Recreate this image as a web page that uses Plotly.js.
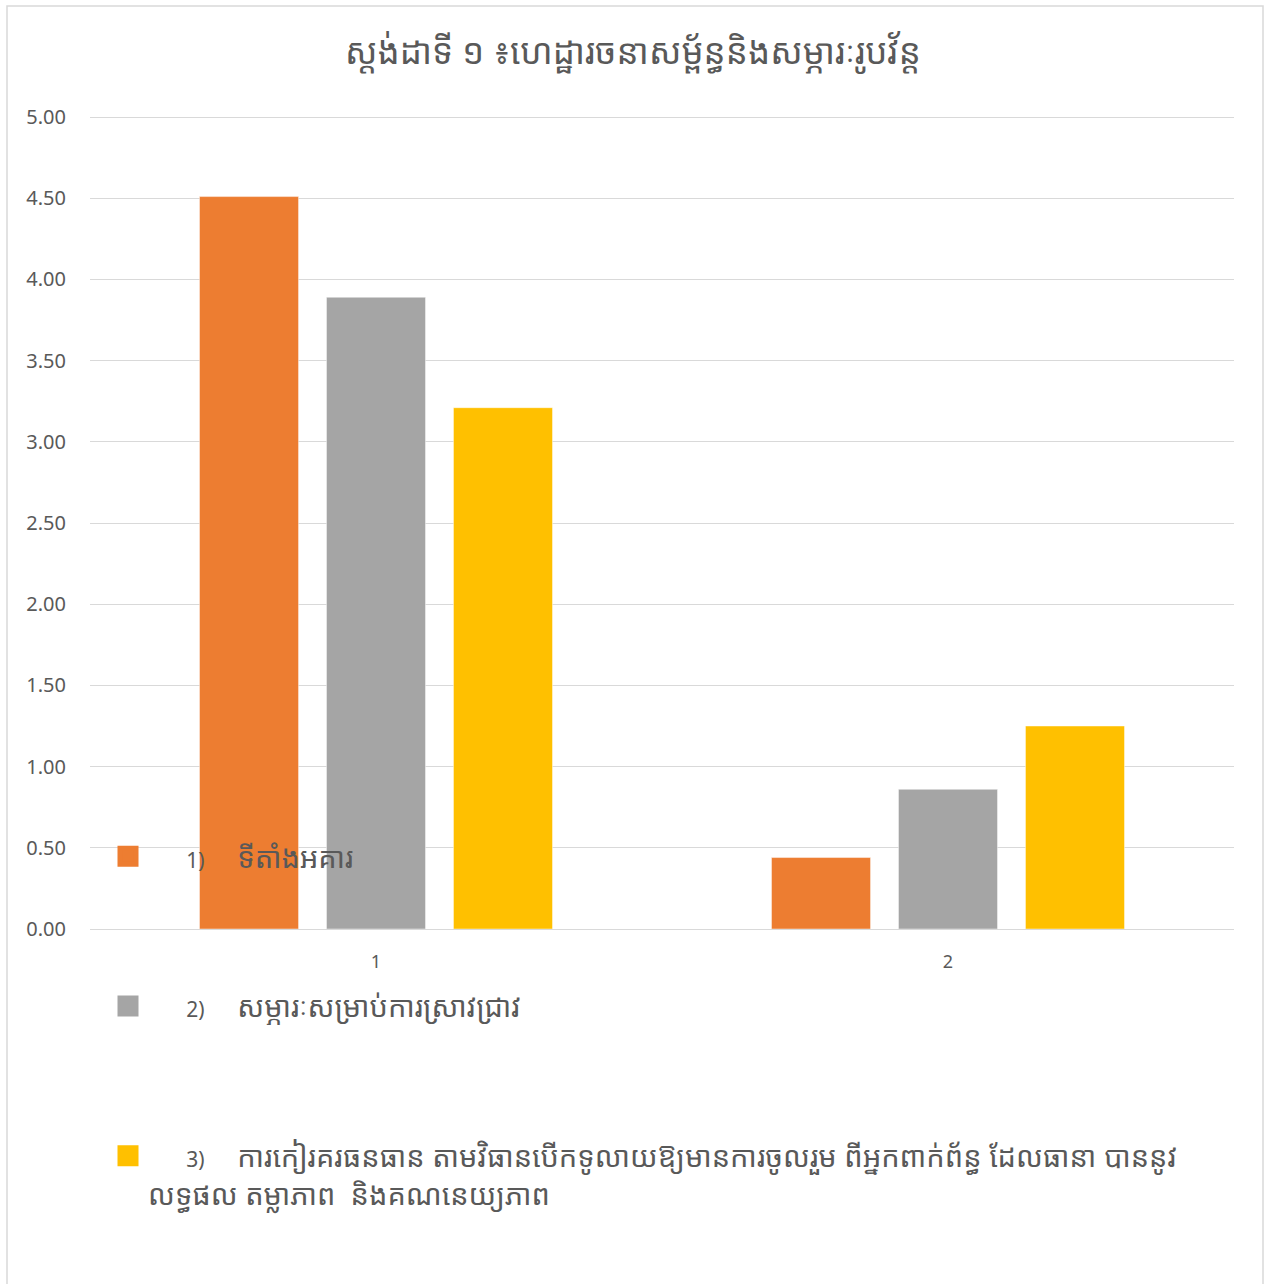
<!DOCTYPE html>
<html>
<head>
<meta charset="utf-8">
<script src="https://cdn.plot.ly/plotly-3.0.1.min.js"></script>
<style>
html,body{margin:0;padding:0;background:#fff;}
#chart{width:1266px;height:1284px;}
</style>
</head>
<body>
<div id="chart"></div>
<script>
const categories = ["1", "2"];
const seriesNumbers = ["1)", "2)", "3)"];
const seriesLabels = [
  "ទីតាំងអគារ",
  "សម្ភារៈសម្រាប់ការស្រាវជ្រាវ",
  "ការកៀរគរធនធាន តាមវិធានបើកទូលាយឱ្យមានការចូលរួម ពីអ្នកពាក់ព័ន្ធ ដែលធានា បាននូវ<br>លទ្ធផល តម្លាភាព  និងគណនេយ្យភាព"
];
const series1 = [4.51, 0.44];
const series2 = [3.89, 0.86];
const series3 = [3.21, 1.25];
const colors = ["#ED7D31", "#A5A5A5", "#FFC000"];
const titleText = "ស្តង់ដាទី ១ ៖ហេដ្ឋារចនាសម្ព័ន្ធនិងសម្ភារៈរូបវ័ន្ត";
const yTicks = [0, 0.5, 1, 1.5, 2, 2.5, 3, 3.5, 4, 4.5, 5];

const fontFam = "'Noto Sans Khmer', 'Khmer OS', 'Khmer OS System', 'Noto Sans', 'Open Sans', sans-serif";
const allSeries = [series1, series2, series3];
const nb = "\u00a0";
function legendName(i) {
  return "<span style='font-size:21px'>" + nb.repeat(7) + seriesNumbers[i] + nb.repeat(6) + "</span>" + seriesLabels[i];
}

const traces = [];
allSeries.forEach((vals, i) => {
  traces.push({
    type: "bar",
    x: categories,
    y: vals,
    name: legendName(i),
    showlegend: false,
    legendgroup: "g" + i,
    marker: {color: colors[i], line: {color: "rgba(255,255,255,0.6)", width: 0.75}},
    hoverinfo: "y"
  });
});
allSeries.forEach((vals, i) => {
  traces.push({
    type: "scatter",
    mode: "markers",
    x: [null],
    y: [null],
    name: legendName(i),
    legendgroup: "g" + i,
    showlegend: true,
    marker: {symbol: "square", size: 16, color: colors[i], line: {color: colors[i], width: 5}},
    hoverinfo: "skip"
  });
});

const layout = {
  width: 1266,
  height: 1284,
  paper_bgcolor: "#ffffff",
  plot_bgcolor: "#ffffff",
  margin: {l: 90, r: 32, t: 114, b: 355},
  font: {family: fontFam, color: "#595959"},
  title: {
    text: titleText,
    font: {size: 35, color: "#595959", family: fontFam},
    x: 0.5, xref: "container", xanchor: "center",
    y: 1 - 52/1284, yref: "container", yanchor: "middle"
  },
  barmode: "group",
  bargap: 0.334,
  bargroupgap: 0.22,
  xaxis: {
    type: "category",
    showgrid: false,
    showline: false,
    ticks: "",
    tickfont: {size: 18, color: "#595959"},
    ticklabelstandoff: 20
  },
  yaxis: {
    range: [0, 5.0185],
    tickvals: yTicks,
    tickformat: ".2f",
    showgrid: true,
    gridcolor: "#d9d9d9",
    gridwidth: 1,
    zeroline: true,
    zerolinecolor: "#d9d9d9",
    zerolinewidth: 1,
    showline: false,
    ticks: "",
    tickfont: {size: 20, color: "#595959"},
    ticklabelstandoff: 23,
    fixedrange: true
  },
  showlegend: true,
  legend: {
    x: (108 - 90) / 1144,
    xanchor: "left",
    y: (929 - 831) / 815,
    yanchor: "top",
    orientation: "v",
    traceorder: "grouped",
    tracegroupgap: 109,
    valign: "top",
    bgcolor: "rgba(0,0,0,0)",
    font: {size: 29, color: "#595959", family: fontFam},
    itemsizing: "trace"
  },
  shapes: [{
    type: "rect",
    xref: "paper", yref: "paper",
    x0: (7 - 90) / 1144, x1: (1263 - 90) / 1144,
    y0: (929 - 1300) / 815, y1: (929 - 6) / 815,
    line: {color: "#d9d9d9", width: 1.5},
    fillcolor: "rgba(0,0,0,0)",
    layer: "below"
  }]
};

Plotly.newPlot("chart", traces, layout, {displayModeBar: false, staticPlot: true});
</script>
</body>
</html>
